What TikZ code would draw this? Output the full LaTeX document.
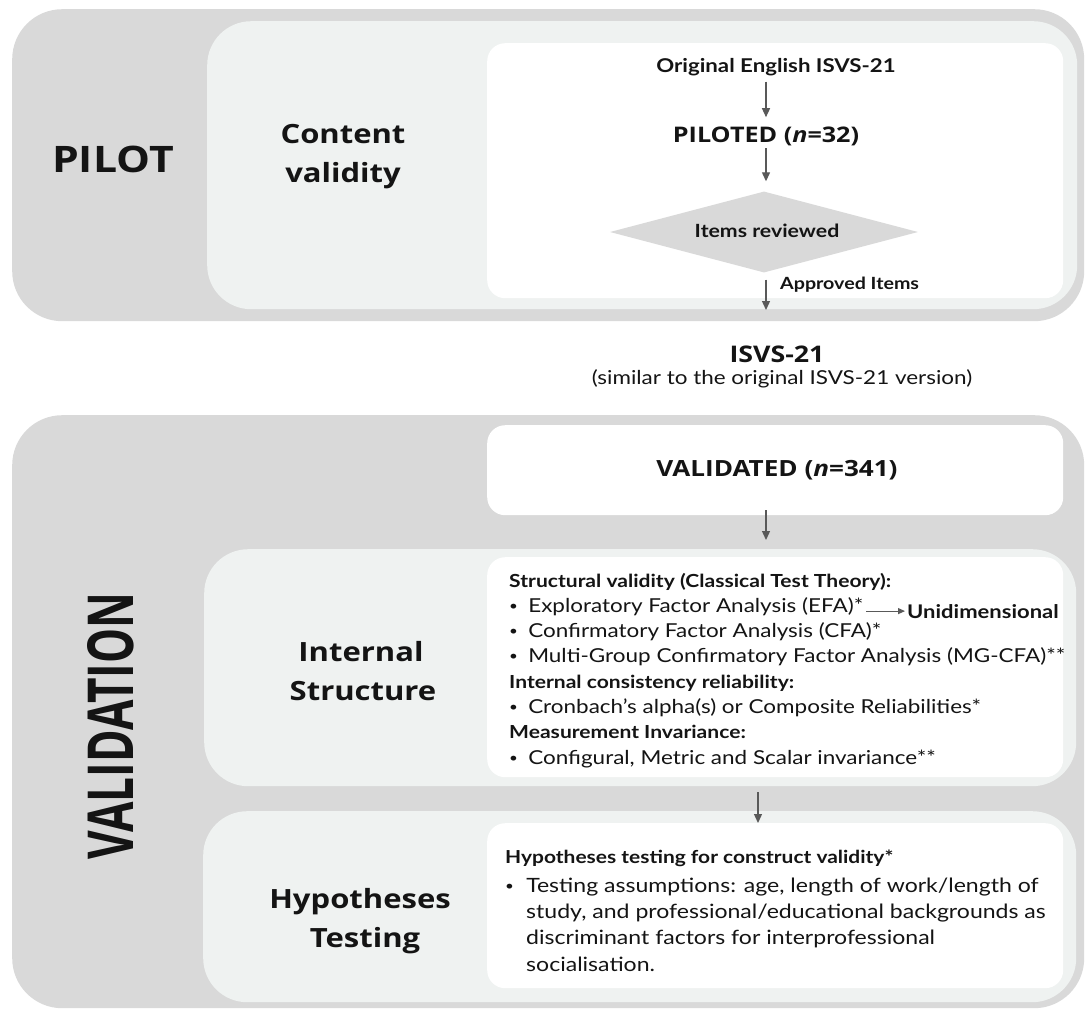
\documentclass[tikz,border=0pt]{standalone}
\usepackage{fontspec}
\usepackage{graphicx}
\usetikzlibrary{arrows.meta,shapes.geometric,calc}
\newfontfamily\osans{Open Sans}
\newfontfamily\lato{Lato}
\definecolor{bandgray}{HTML}{D9D9D9}
\definecolor{panelgray}{HTML}{EFF2F1}
\definecolor{arrowgray}{HTML}{595959}
\definecolor{ink}{HTML}{141414}
% text in this figure is set slightly extended
\newcommand{\wide}[1]{\scalebox{1.17}[1]{#1}}
% small list bullet in a box of given width
\newcommand{\bul}[1]{\makebox[#1][l]{\raisebox{1.3pt}{\fontsize{13}{13}\selectfont\textbullet}}}

\begin{document}
\begin{tikzpicture}[x=1pt,y=-1pt,
  every node/.style={inner sep=0pt, text=ink},
  band/.style={fill=bandgray, draw=none, rounded corners=50pt, anchor=north west},
  panelbox/.style={fill=panelgray, draw=none, rounded corners=44pt, anchor=north west},
  card/.style={fill=white, draw=none, rounded corners=18pt, anchor=north west},
  flow/.style={draw=arrowgray, line width=1.3pt, -{Triangle[width=8pt,length=9pt]}},
  smallflow/.style={draw=arrowgray, line width=1.1pt, -{Triangle[width=6pt,length=7pt]}},
  phase/.style={font=\osans\bfseries\fontsize{36.5}{44}\selectfont, anchor=base},
  aspect/.style={font=\osans\bfseries\fontsize{26.5}{32}\selectfont, anchor=base},
  stage/.style={font=\osans\bfseries\fontsize{21.5}{26}\selectfont, anchor=base},
  body/.style={font=\lato\fontsize{19.2}{23}\selectfont, anchor=base west},
  bodyb/.style={font=\lato\bfseries\fontsize{18}{23}\selectfont, anchor=base west},
  hbody/.style={font=\lato\fontsize{19.7}{23}\selectfont, anchor=base west},
  hbodyb/.style={font=\lato\bfseries\fontsize{17.9}{23}\selectfont, anchor=base west},
]
\useasboundingbox (0,0) rectangle (1085,1010);

% ---------------- PILOT phase ----------------
\node[band, minimum width=1072pt, minimum height=312pt] (pilotband) at (12,9) {};
\node[panelbox, minimum width=870pt, minimum height=288pt] (pilotpanel) at (207,21) {};
\node[card, minimum width=576pt, minimum height=255pt] (pilotcard) at (487,43) {};

\node[phase] (pilot) at (113,172) {\wide{PILOT}};
\node[aspect] (cv1) at (343,143) {\wide{Content}};
\node[aspect] (cv2) at (343,182) {\wide{validity}};

\coordinate (ax) at (766,0);
\node[anchor=base, font=\lato\bfseries\fontsize{19}{23}\selectfont] (orig) at (776,72) {\wide{Original English ISVS-21}};
\node[stage] (piloted) at (766,142) {\wide{PILOTED (\textit{n}=32)}};
\node[diamond, fill=bandgray, draw=none, minimum width=308pt, minimum height=81pt] (review) at (764,232) {};
\node[anchor=base, font=\lato\bfseries\fontsize{18.2}{22}\selectfont] (reviewtxt) at (767,237) {\wide{Items reviewed}};
\coordinate (apend) at (766,310);
\node[anchor=base west, font=\lato\bfseries\fontsize{16.8}{20}\selectfont] (approved) at (780,289) {\wide{Approved Items}};

\draw[flow, shorten <=6pt, shorten >=9pt] (orig.south -| ax) -- (piloted.north -| ax);
\draw[flow, shorten <=2.5pt, shorten >=10pt] (piloted.south -| ax) -- (review.north -| ax);
\draw[flow, shorten <=7pt] (review.south -| ax) -- (apend);

% ---------------- intermediate version ----------------
\node[anchor=base, font=\osans\bfseries\fontsize{22.9}{27}\selectfont] (isvs) at (777,362) {\wide{ISVS-21}};
\node[anchor=base, font=\lato\fontsize{19.2}{23}\selectfont] (similar) at (782,384) {\wide{(similar to the original ISVS-21 version)}};

% ---------------- VALIDATION phase ----------------
\node[band, minimum width=1072pt, minimum height=593pt] (valband) at (12,415) {};
\node[card, minimum width=576pt, minimum height=90pt] (validcard) at (487,425) {};
\node[stage, font=\osans\bfseries\fontsize{22.3}{26}\selectfont] (validated) at (777,476) {\wide{VALIDATED (\textit{n}=341)}};

\node[panelbox, minimum width=872pt, minimum height=237pt] (intpanel) at (204,549) {};
\node[card, minimum width=576pt, minimum height=220pt] (intcard) at (487,557) {};
\node[panelbox, minimum width=873pt, minimum height=191pt] (hyppanel) at (203,811) {};
\node[card, minimum width=576pt, minimum height=165pt] (hypcard) at (487,823) {};

\node[rotate=90, anchor=base] (valtitle) at (133,726)
  {\resizebox{267pt}{46pt}{\osans\bfseries VALIDATION}};

\node[aspect] (is1) at (361,661) {\wide{Internal}};
\node[aspect] (is2) at (363,700) {\wide{Structure}};
\node[aspect] (ht1) at (360,908) {\wide{Hypotheses}};
\node[aspect] (ht2) at (365,947) {\wide{Testing}};

\draw[flow, shorten <=-5pt, shorten >=9pt] (validcard.south -| ax) -- (intpanel.north -| ax);
\coordinate (bx) at (758,0);
\draw[flow, shorten <=15pt] (intcard.south -| bx) -- (hypcard.north -| bx);

% internal structure list
\node[bodyb] (s1) at (509,587) {\wide{Structural validity (Classical Test Theory):}};
\node[body]  (s2) at (509,612) {\wide{\bul{16.3pt}Exploratory Factor Analysis (EFA)*}};
\node[anchor=base west, font=\lato\bfseries\fontsize{18.8}{23}\selectfont] (uni) at (907,618) {\wide{Unidimensional}};
\draw[smallflow, shorten <=3pt, shorten >=2pt] (uni.west -| s2.east) -- (uni.west);
\node[body]  (s3) at (509,637) {\wide{\bul{16.3pt}Confirmatory Factor Analysis (CFA)*}};
\node[body]  (s4) at (509,662) {\wide{\bul{16.3pt}Multi-Group Confirmatory Factor Analysis (MG-CFA)**}};
\node[bodyb] (s5) at (509,688) {\wide{Internal consistency reliability:}};
\node[body]  (s6) at (509,713) {\wide{\bul{16.3pt}Cronbach’s alpha(s) or Composite Reliabilities*}};
\node[bodyb] (s7) at (509,738) {\wide{Measurement Invariance:}};
\node[body]  (s8) at (509,764) {\wide{\bul{16.3pt}Configural, Metric and Scalar invariance**}};

% hypotheses testing list
\node[hbodyb] (h1) at (505,863) {\wide{Hypotheses testing for construct validity*}};
\node[hbody]  (h2) at (505,892) {\wide{\bul{18pt}Testing assumptions: age, length of work/length of}};
\node[hbody]  (h3) at (526,918) {\wide{study, and professional/educational backgrounds as}};
\node[hbody]  (h4) at (526,944) {\wide{discriminant factors for interprofessional}};
\node[hbody]  (h5) at (526,971) {\wide{socialisation.}};
\end{tikzpicture}
\end{document}
